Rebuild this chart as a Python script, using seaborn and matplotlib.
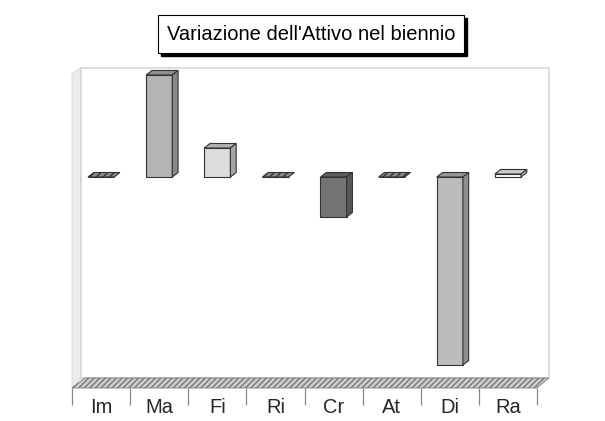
import numpy as np
import pandas as pd
import matplotlib
matplotlib.use("Agg")
import matplotlib.pyplot as plt
import seaborn as sns
from matplotlib.patches import Polygon, Rectangle

# Data (relative change, arbitrary units)
categories = ["Im", "Ma", "Fi", "Ri", "Cr", "At", "Di", "Ra"]
values = [0, 102, 29, 0, -40, 0, -188, 3]
bar_colors = ["#5a5a5a", "#b4b4b4", "#dcdcdc", "#5a5a5a", "#747474", "#5a5a5a", "#bcbcbc", "#ffffff"]
title = "Variazione dell'Attivo nel biennio"

df = pd.DataFrame({"voce": categories, "delta": values})

sns.set_style("white")
plt.rcParams["font.family"] = ["Liberation Sans", "DejaVu Sans"]

fig = plt.figure(figsize=(6.05, 4.21), dpi=100)
W, H = 605, 421
# axes spans x 72..537 px, y 68..388 px
ax = fig.add_axes([72 / W, 1 - 388 / H, 465 / W, 320 / H])

sns.barplot(data=df, x="voce", y="delta", hue="voce", palette=bar_colors,
            width=0.45, edgecolor="#333333", linewidth=0.8, legend=False, ax=ax, zorder=3)

ymin, ymax = -211, 109
ax.set_xlim(-0.5, 7.5)
ax.set_ylim(ymin, ymax)

# depth of the pseudo-3D effect in data units
dx, dy = 0.1, 4.5

# back wall and left wall
ax.add_patch(Rectangle((-0.5 + 0.15, -201), 8.05, ymax - (-201), facecolor="white",
                       edgecolor="#d8d8d8", linewidth=1.2, zorder=0, clip_on=False))
ax.add_patch(Polygon([(-0.5, ymin), (-0.5 + 0.15, -201), (-0.5 + 0.15, ymax), (-0.5, ymax - 6)],
                     closed=True, facecolor="#ececec", edgecolor="#d0d0d0", linewidth=0.6,
                     zorder=0, clip_on=False))

# floor strip
ax.add_patch(Polygon([(-0.5, ymin), (7.5, ymin), (7.5 + 0.2, -201), (-0.5 + 0.22, -201)],
                     closed=True, facecolor="#cfcfcf", edgecolor="#777777", hatch="//////",
                     linewidth=0.6, zorder=1, clip_on=False))


def shade(c, f):
    rgb = np.array(matplotlib.colors.to_rgb(c))
    return tuple(rgb * f)


for bar, col, v in zip(ax.patches[:len(categories)], bar_colors, values):
    x0, w = bar.get_x(), bar.get_width()
    top = max(0, v)
    bot = min(0, v)
    if v == 0:
        ax.add_patch(Polygon([(x0, 0), (x0 + w, 0), (x0 + w + dx, dy), (x0 + dx, dy)], closed=True,
                             facecolor="#8a8a8a", edgecolor="#333333", hatch="/////", linewidth=0.8, zorder=4))
        continue
    # top face
    ax.add_patch(Polygon([(x0, top), (x0 + w, top), (x0 + w + dx, top + dy), (x0 + dx, top + dy)],
                         closed=True, facecolor=shade(col, 0.8), edgecolor="#333333", linewidth=0.8, zorder=4))
    # side face
    ax.add_patch(Polygon([(x0 + w, bot), (x0 + w, top), (x0 + w + dx, top + dy), (x0 + w + dx, bot + dy)],
                         closed=True, facecolor=shade(col, 0.75), edgecolor="#333333", linewidth=0.8, zorder=4))

ax.set_xlabel("")
ax.set_ylabel("")
ax.set_yticks([])
ax.set_xticks(range(len(categories)))
ax.set_xticklabels(categories, fontsize=14.5)
ax.tick_params(axis="x", which="major", length=0, pad=7)
ax.set_xticks(np.arange(-0.5, 8, 1), minor=True)
ax.tick_params(axis="x", which="minor", bottom=True, length=12, width=0.9, color="#888888", direction="out")
for s in ax.spines.values():
    s.set_visible(False)
ax.patch.set_alpha(0)

# title box with drop shadow
t = fig.text(311 / W, 1 - 34 / H, title, ha="center", va="center", fontsize=14.5,
             color="black", zorder=5,
             bbox=dict(boxstyle="square,pad=0.45", facecolor="white", edgecolor="black", linewidth=0.8))
fig.canvas.draw()
bb = t.get_bbox_patch().get_window_extent(fig.canvas.get_renderer())
fig.patches.append(Rectangle((bb.x0 / W + 3 / W, bb.y0 / H - 3 / H), bb.width / W, bb.height / H,
                             transform=fig.transFigure, facecolor="black", edgecolor="black", zorder=1))

fig.savefig("out.png", dpi=100, facecolor="white")
